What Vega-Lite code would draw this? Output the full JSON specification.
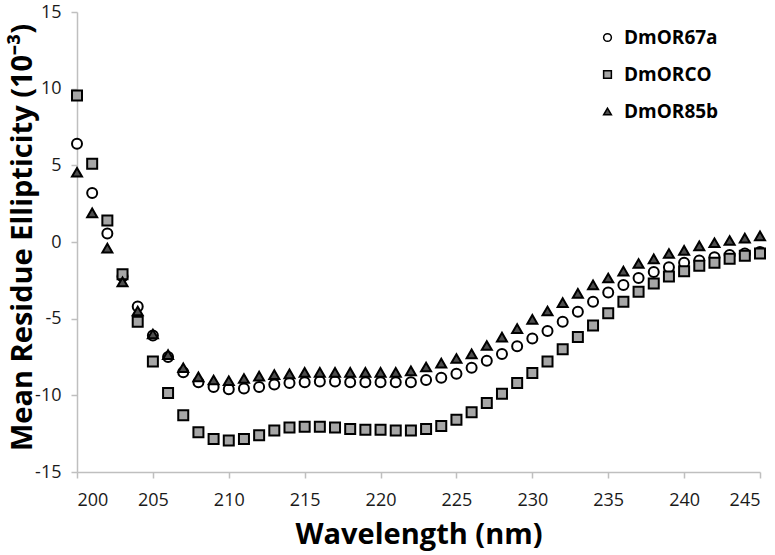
{
  "$schema": "https://vega.github.io/schema/vega-lite/v6.json",
  "width": 683,
  "height": 460,
  "autosize": {"type": "none"},
  "padding": {"left": 77, "top": 12, "right": 15, "bottom": 83},
  "background": "white",
  "config": {
    "view": {"stroke": null},
    "font": "Open Sans",
    "axis": {
      "grid": false,
      "domainColor": "#bfbfbf",
      "domainWidth": 1.5,
      "tickColor": "#bfbfbf",
      "tickWidth": 1.5,
      "tickSize": 6,
      "labelFont": "Open Sans",
      "labelFontSize": 18,
      "labelColor": "#1a1a1a",
      "titleFont": "Open Sans",
      "titleFontWeight": "bold",
      "titleFontSize": 29,
      "titleColor": "#000000"
    }
  },
  "data": {
    "values": [
      {"w":200,"s":"DmOR67a","v":6.4},{"w":201,"s":"DmOR67a","v":3.2},{"w":202,"s":"DmOR67a","v":0.55},{"w":203,"s":"DmOR67a","v":-2.25},{"w":204,"s":"DmOR67a","v":-4.2},{"w":205,"s":"DmOR67a","v":-6.1},{"w":206,"s":"DmOR67a","v":-7.5},{"w":207,"s":"DmOR67a","v":-8.5},{"w":208,"s":"DmOR67a","v":-9.15},{"w":209,"s":"DmOR67a","v":-9.45},{"w":210,"s":"DmOR67a","v":-9.6},{"w":211,"s":"DmOR67a","v":-9.55},{"w":212,"s":"DmOR67a","v":-9.45},{"w":213,"s":"DmOR67a","v":-9.3},{"w":214,"s":"DmOR67a","v":-9.2},{"w":215,"s":"DmOR67a","v":-9.15},{"w":216,"s":"DmOR67a","v":-9.1},{"w":217,"s":"DmOR67a","v":-9.1},{"w":218,"s":"DmOR67a","v":-9.15},{"w":219,"s":"DmOR67a","v":-9.15},{"w":220,"s":"DmOR67a","v":-9.15},{"w":221,"s":"DmOR67a","v":-9.15},{"w":222,"s":"DmOR67a","v":-9.15},{"w":223,"s":"DmOR67a","v":-9.0},{"w":224,"s":"DmOR67a","v":-8.85},{"w":225,"s":"DmOR67a","v":-8.6},{"w":226,"s":"DmOR67a","v":-8.2},{"w":227,"s":"DmOR67a","v":-7.75},{"w":228,"s":"DmOR67a","v":-7.3},{"w":229,"s":"DmOR67a","v":-6.8},{"w":230,"s":"DmOR67a","v":-6.3},{"w":231,"s":"DmOR67a","v":-5.8},{"w":232,"s":"DmOR67a","v":-5.2},{"w":233,"s":"DmOR67a","v":-4.55},{"w":234,"s":"DmOR67a","v":-3.9},{"w":235,"s":"DmOR67a","v":-3.3},{"w":236,"s":"DmOR67a","v":-2.8},{"w":237,"s":"DmOR67a","v":-2.35},{"w":238,"s":"DmOR67a","v":-1.95},{"w":239,"s":"DmOR67a","v":-1.65},{"w":240,"s":"DmOR67a","v":-1.35},{"w":241,"s":"DmOR67a","v":-1.2},{"w":242,"s":"DmOR67a","v":-1.0},{"w":243,"s":"DmOR67a","v":-0.85},{"w":244,"s":"DmOR67a","v":-0.75},{"w":245,"s":"DmOR67a","v":-0.65},
      {"w":200,"s":"DmORCO","v":9.55},{"w":201,"s":"DmORCO","v":5.1},{"w":202,"s":"DmORCO","v":1.4},{"w":203,"s":"DmORCO","v":-2.1},{"w":204,"s":"DmORCO","v":-5.2},{"w":205,"s":"DmORCO","v":-7.8},{"w":206,"s":"DmORCO","v":-9.85},{"w":207,"s":"DmORCO","v":-11.3},{"w":208,"s":"DmORCO","v":-12.4},{"w":209,"s":"DmORCO","v":-12.85},{"w":210,"s":"DmORCO","v":-12.95},{"w":211,"s":"DmORCO","v":-12.85},{"w":212,"s":"DmORCO","v":-12.6},{"w":213,"s":"DmORCO","v":-12.3},{"w":214,"s":"DmORCO","v":-12.1},{"w":215,"s":"DmORCO","v":-12.05},{"w":216,"s":"DmORCO","v":-12.05},{"w":217,"s":"DmORCO","v":-12.1},{"w":218,"s":"DmORCO","v":-12.2},{"w":219,"s":"DmORCO","v":-12.25},{"w":220,"s":"DmORCO","v":-12.25},{"w":221,"s":"DmORCO","v":-12.3},{"w":222,"s":"DmORCO","v":-12.3},{"w":223,"s":"DmORCO","v":-12.2},{"w":224,"s":"DmORCO","v":-12.0},{"w":225,"s":"DmORCO","v":-11.6},{"w":226,"s":"DmORCO","v":-11.1},{"w":227,"s":"DmORCO","v":-10.5},{"w":228,"s":"DmORCO","v":-9.9},{"w":229,"s":"DmORCO","v":-9.2},{"w":230,"s":"DmORCO","v":-8.55},{"w":231,"s":"DmORCO","v":-7.8},{"w":232,"s":"DmORCO","v":-7.0},{"w":233,"s":"DmORCO","v":-6.2},{"w":234,"s":"DmORCO","v":-5.45},{"w":235,"s":"DmORCO","v":-4.65},{"w":236,"s":"DmORCO","v":-3.9},{"w":237,"s":"DmORCO","v":-3.25},{"w":238,"s":"DmORCO","v":-2.7},{"w":239,"s":"DmORCO","v":-2.25},{"w":240,"s":"DmORCO","v":-1.9},{"w":241,"s":"DmORCO","v":-1.55},{"w":242,"s":"DmORCO","v":-1.35},{"w":243,"s":"DmORCO","v":-1.1},{"w":244,"s":"DmORCO","v":-0.9},{"w":245,"s":"DmORCO","v":-0.75},
      {"w":200,"s":"DmOR85b","v":4.55},{"w":201,"s":"DmOR85b","v":1.9},{"w":202,"s":"DmOR85b","v":-0.4},{"w":203,"s":"DmOR85b","v":-2.6},{"w":204,"s":"DmOR85b","v":-4.5},{"w":205,"s":"DmOR85b","v":-6.0},{"w":206,"s":"DmOR85b","v":-7.35},{"w":207,"s":"DmOR85b","v":-8.2},{"w":208,"s":"DmOR85b","v":-8.8},{"w":209,"s":"DmOR85b","v":-9.0},{"w":210,"s":"DmOR85b","v":-9.05},{"w":211,"s":"DmOR85b","v":-8.9},{"w":212,"s":"DmOR85b","v":-8.75},{"w":213,"s":"DmOR85b","v":-8.65},{"w":214,"s":"DmOR85b","v":-8.6},{"w":215,"s":"DmOR85b","v":-8.5},{"w":216,"s":"DmOR85b","v":-8.5},{"w":217,"s":"DmOR85b","v":-8.5},{"w":218,"s":"DmOR85b","v":-8.5},{"w":219,"s":"DmOR85b","v":-8.5},{"w":220,"s":"DmOR85b","v":-8.5},{"w":221,"s":"DmOR85b","v":-8.5},{"w":222,"s":"DmOR85b","v":-8.4},{"w":223,"s":"DmOR85b","v":-8.15},{"w":224,"s":"DmOR85b","v":-7.9},{"w":225,"s":"DmOR85b","v":-7.6},{"w":226,"s":"DmOR85b","v":-7.3},{"w":227,"s":"DmOR85b","v":-6.75},{"w":228,"s":"DmOR85b","v":-6.2},{"w":229,"s":"DmOR85b","v":-5.65},{"w":230,"s":"DmOR85b","v":-5.05},{"w":231,"s":"DmOR85b","v":-4.5},{"w":232,"s":"DmOR85b","v":-3.95},{"w":233,"s":"DmOR85b","v":-3.35},{"w":234,"s":"DmOR85b","v":-2.8},{"w":235,"s":"DmOR85b","v":-2.35},{"w":236,"s":"DmOR85b","v":-1.9},{"w":237,"s":"DmOR85b","v":-1.4},{"w":238,"s":"DmOR85b","v":-1.1},{"w":239,"s":"DmOR85b","v":-0.75},{"w":240,"s":"DmOR85b","v":-0.55},{"w":241,"s":"DmOR85b","v":-0.25},{"w":242,"s":"DmOR85b","v":-0.05},{"w":243,"s":"DmOR85b","v":0.1},{"w":244,"s":"DmOR85b","v":0.25},{"w":245,"s":"DmOR85b","v":0.4}
    ]
  },
  "mark": {"type": "point", "filled": true, "stroke": "#000000", "strokeWidth": 2, "size": 100, "opacity": 1},
  "encoding": {
    "x": {
      "field": "w", "type": "quantitative",
      "scale": {"domain": [200, 245], "nice": false, "zero": false},
      "axis": {"values": [200,205,210,215,220,225,230,235,240,245], "title": "Wavelength (nm)", "labelPadding": 13, "titlePadding": 11}
    },
    "y": {
      "field": "v", "type": "quantitative",
      "scale": {"domain": [-15, 15], "nice": false, "zero": false},
      "axis": {
        "values": [-15,-10,-5,0,5,10,15],
        "labelExpr": "datum.value < 0 ? '-' + abs(datum.value) : datum.label",
        "title": "Mean Residue Ellipticity (10⁻³)",
        "labelPadding": 10,
        "titleX": -46, "titleY": 225, "titleBaseline": "alphabetic", "titleAngle": 270
      }
    },
    "shape": {
      "field": "s", "type": "nominal",
      "scale": {"domain": ["DmOR67a","DmORCO","DmOR85b"], "range": ["circle","square","triangle-up"]},
      "legend": {
        "title": null, "orient": "none", "legendX": 521, "legendY": 16,
        "labelFont": "Open Sans", "labelFontWeight": "bold", "labelFontSize": 19, "labelColor": "#000000",
        "symbolSize": 60, "rowPadding": 17, "labelOffset": 7,
        "encode": {"symbols": {"update": {"stroke": {"value": "#000000"}, "strokeWidth": {"value": 2}}}}
      }
    },
    "fill": {
      "field": "s", "type": "nominal",
      "scale": {"domain": ["DmOR67a","DmORCO","DmOR85b"], "range": ["#ffffff","#a6a6a6","#4d4d4d"]},
      "legend": {
        "title": null, "orient": "none", "legendX": 521, "legendY": 16,
        "labelFont": "Open Sans", "labelFontWeight": "bold", "labelFontSize": 19, "labelColor": "#000000",
        "symbolSize": 60, "rowPadding": 17, "labelOffset": 7,
        "encode": {"symbols": {"update": {"stroke": {"value": "#000000"}, "strokeWidth": {"value": 2}}}}
      }
    }
  }
}
